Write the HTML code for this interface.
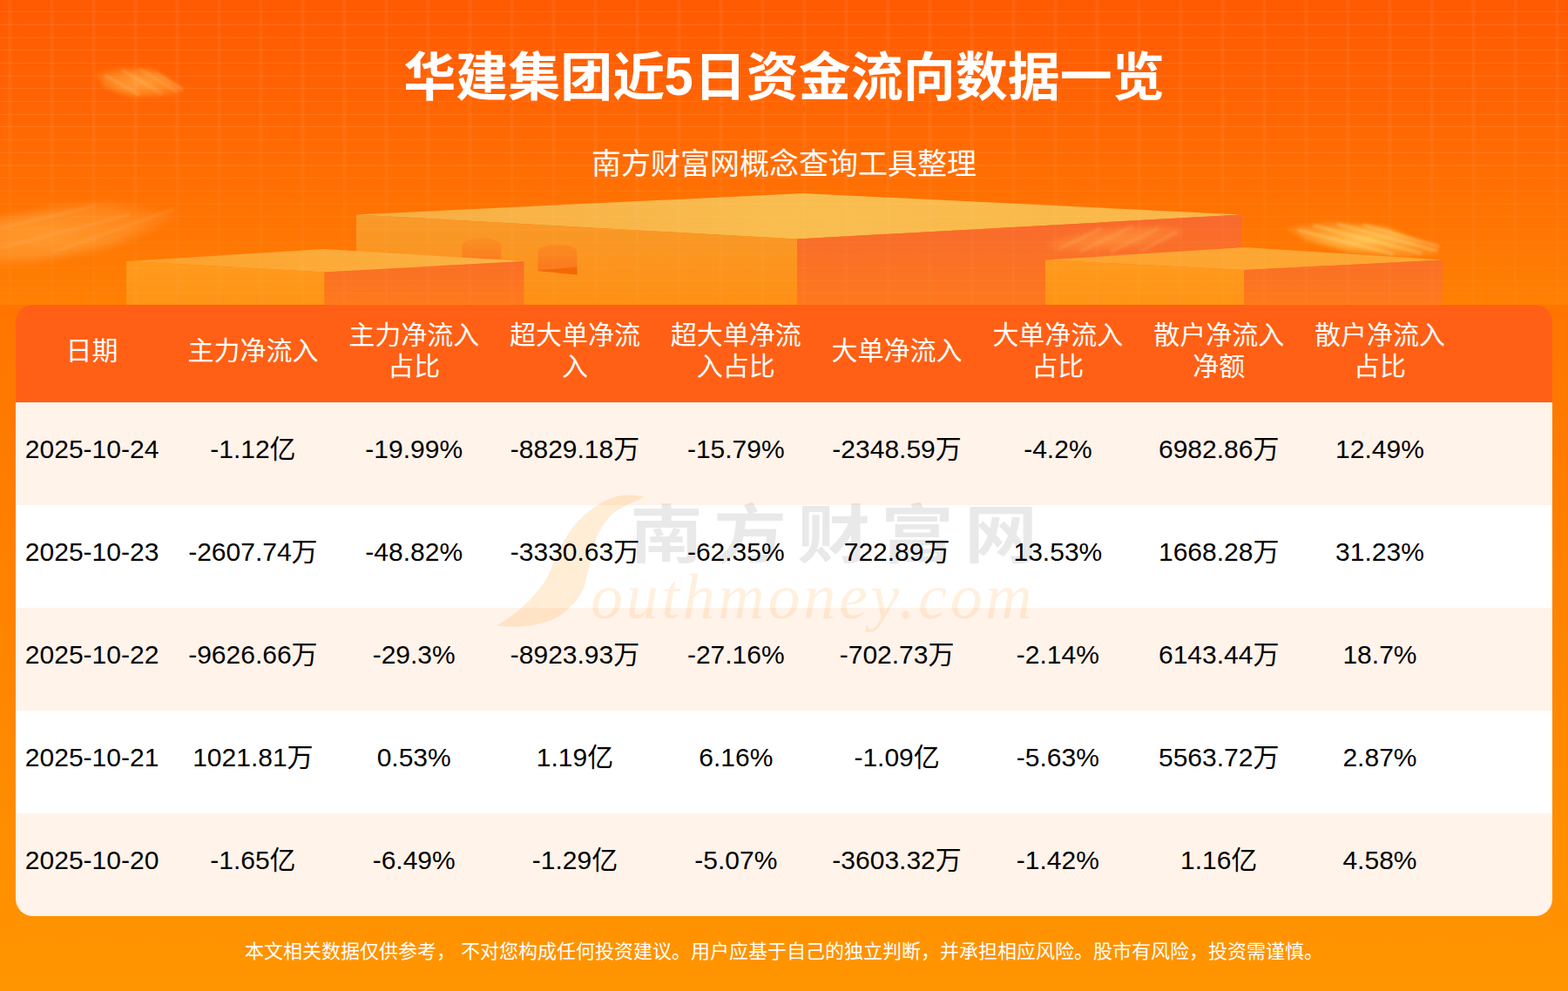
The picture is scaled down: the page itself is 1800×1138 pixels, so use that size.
<!DOCTYPE html>
<html lang="zh-CN">
<head>
<meta charset="utf-8">
<title>华建集团近5日资金流向数据一览</title>
<style>
html,body{margin:0;padding:0}
body{width:1800px;height:1138px;position:relative;overflow:hidden;font-family:"Liberation Sans","Noto Sans CJK SC",sans-serif;background:linear-gradient(180deg,#ff6600 0,#ff9500 1138px);color:#000}
.banner{position:absolute;left:0;top:0;width:1800px;height:350px;overflow:hidden;background:linear-gradient(180deg,#ff5a02 0,#ff6203 100px,#ff8003 350px)}
.banner>svg{position:absolute;left:0;top:0}
.grid{position:absolute;inset:0;-webkit-mask-image:linear-gradient(180deg,#000 0,#000 45%,rgba(0,0,0,.5) 72%,rgba(0,0,0,.45) 100%);mask-image:linear-gradient(180deg,#000 0,#000 45%,rgba(0,0,0,.5) 72%,rgba(0,0,0,.45) 100%);background:
repeating-linear-gradient(180deg,transparent 0,transparent 13.1px,rgba(255,255,255,.085) 13.2px,rgba(255,255,255,.085) 14.2px,transparent 14.3px,transparent 14.69px),
repeating-linear-gradient(90deg,transparent 0,transparent 9px,rgba(255,255,255,.05) 10px,rgba(255,255,255,.05) 13px,transparent 14px,transparent 48px)}
.title{position:absolute;left:0;top:58px;width:1800px;margin:0;text-align:center;font-size:60px;line-height:60px;height:60px;font-weight:bold;color:#fff;white-space:nowrap}
.title .n5{display:inline-block;vertical-align:baseline;font-size:63px;position:relative;top:-1.5px;width:33.4px;text-align:center;text-indent:-1.5px;transform:scaleX(.95)}
.sub{position:absolute;left:0;top:170.8px;width:1800px;margin:0;text-align:center;font-size:34px;line-height:34px;height:34px;color:#fff;white-space:nowrap}
.card{position:absolute;left:18px;top:350px;width:1764px;height:702px;border-radius:20px;overflow:hidden;background:linear-gradient(180deg,#ff6015 0,#ff6015 112px,#fff3ea 112px,#fff3ea 230px,#fff 230px,#fff 348px,#fff3ea 348px,#fff3ea 466px,#fff 466px,#fff 584px,#fff3ea 584px,#fff3ea 702px)}
table{position:absolute;left:-4.8px;top:0;width:1768.8px;border-collapse:collapse;table-layout:fixed;font-size:30px}
th,td{width:184.8px;padding:0;text-align:center;font-weight:normal;white-space:nowrap}
th:last-child,td:last-child{width:auto}
thead tr{height:112px;color:#fff}
th{line-height:36px;vertical-align:middle;padding-bottom:6px}
tbody tr{height:118px}
td{vertical-align:middle;padding-bottom:10px;line-height:34px}
.wm{position:absolute;left:0;top:0;width:1764px;height:702px;pointer-events:none}
.foot{position:absolute;left:0;top:1082px;width:1800px;margin:0;text-align:center;font-size:22px;line-height:22px;height:22px;color:#fff;white-space:pre}
.wms{position:absolute;left:0;top:0}
.wmcn{position:absolute;left:705px;top:225.5px;width:468px;height:73px;fill:#000;fill-opacity:.088}
.wmen{position:absolute;left:660px;top:290px;font-family:"Liberation Serif",serif;font-style:italic;font-size:74px;line-height:90px;letter-spacing:3.7px;color:rgba(255,140,0,.13);white-space:nowrap}

</style>
</head>
<body>
<div class="banner">
<svg width="1800" height="350" viewBox="0 0 1800 350" aria-hidden="true">
<defs>
<linearGradient id="bt" x1="0" y1="0" x2="1" y2="0"><stop offset="0" stop-color="#f8ac40"/><stop offset=".5" stop-color="#f9bd4f"/><stop offset="1" stop-color="#fbb648"/></linearGradient>
<linearGradient id="bl" x1="0" y1="0" x2="0" y2="1"><stop offset="0" stop-color="#f89a2a"/><stop offset="1" stop-color="#ff9014"/></linearGradient>
<linearGradient id="br" x1="0" y1="0" x2="0" y2="1"><stop offset="0" stop-color="#f8692e"/><stop offset="1" stop-color="#fe781c"/></linearGradient>
<linearGradient id="st" x1="0" y1="0" x2="1" y2="0"><stop offset="0" stop-color="#fda02a"/><stop offset="1" stop-color="#fbb446"/></linearGradient>
<linearGradient id="st2" x1="0" y1="0" x2="1" y2="0"><stop offset="0" stop-color="#fda330"/><stop offset="1" stop-color="#fda834"/></linearGradient>
<linearGradient id="sl" x1="0" y1="0" x2="0" y2="1"><stop offset="0" stop-color="#ff9a1e"/><stop offset="1" stop-color="#ff9414"/></linearGradient>
<linearGradient id="sr" x1="0" y1="0" x2="0" y2="1"><stop offset="0" stop-color="#fa6f26"/><stop offset="1" stop-color="#fe7a1c"/></linearGradient>
<linearGradient id="h1" x1="0" y1="0" x2="0" y2="1"><stop offset="0" stop-color="#fa8a1e" stop-opacity=".6"/><stop offset="1" stop-color="#fb7c20" stop-opacity="1"/></linearGradient>
<linearGradient id="h2" x1="0" y1="0" x2="0" y2="1"><stop offset="0" stop-color="#fb881e" stop-opacity=".8"/><stop offset="1" stop-color="#fb741e"/></linearGradient>
<radialGradient id="g1"><stop offset="0" stop-color="#ffae44" stop-opacity=".8"/><stop offset=".7" stop-color="#ff962a" stop-opacity=".65"/><stop offset="1" stop-color="#ff8c20" stop-opacity=".35"/></radialGradient>
<radialGradient id="g2"><stop offset="0" stop-color="#ffc850" stop-opacity=".95"/><stop offset=".6" stop-color="#ffae38" stop-opacity=".75"/><stop offset="1" stop-color="#ffa030" stop-opacity=".5"/></radialGradient>
<radialGradient id="g3"><stop offset="0" stop-color="#ffa040" stop-opacity=".6"/><stop offset=".6" stop-color="#ff9838" stop-opacity=".45"/><stop offset="1" stop-color="#ff9030" stop-opacity=".2"/></radialGradient>
<radialGradient id="g4" cx=".3" cy=".55" r=".75"><stop offset="0" stop-color="#ffa238" stop-opacity=".8"/><stop offset=".6" stop-color="#ff9830" stop-opacity=".6"/><stop offset="1" stop-color="#ff9028" stop-opacity=".3"/></radialGradient>
<filter id="bl3" x="-20%" y="-50%" width="140%" height="200%"><feGaussianBlur stdDeviation="2.5"/></filter>
<filter id="bl1" x="-20%" y="-50%" width="140%" height="200%"><feGaussianBlur stdDeviation="1.7"/></filter>
<filter id="bl6" x="-20%" y="-50%" width="140%" height="200%"><feGaussianBlur stdDeviation="5"/></filter>
</defs>
<!-- light streaks behind blocks -->
<g filter="url(#bl3)"><polygon points="108,84 132,78 172,78 212,103 200,110 150,112 120,100" fill="url(#g1)"/></g>
<g filter="url(#bl1)" stroke="#ffc27a" stroke-opacity=".3" stroke-width="3.2" fill="none"><path d="M120,86L160,109M140,80L186,108M160,79L203,105M178,83L210,103"/></g>
<g filter="url(#bl6)"><polygon points="-20,254 60,240 125,233 206,248 130,282 40,300 -20,302" fill="url(#g4)"/></g>
<g filter="url(#bl1)" stroke="#ffc080" stroke-opacity=".22" stroke-width="2.5" fill="none"><path d="M0,262L110,236M0,285L150,246M60,290L200,240"/></g>
<!-- big block -->
<polygon points="409,246.5 922,222 1425,246.5 915,274.5" fill="url(#bt)"/>
<polygon points="409,246.5 915,274.5 915,350 409,350" fill="url(#bl)"/>
<polygon points="915,274.5 1425,246.5 1425,350 915,350" fill="url(#br)"/>
<ellipse cx="1280" cy="274" rx="80" ry="13" transform="rotate(-6 1280 274)" fill="url(#g3)" filter="url(#bl3)"/>
<g filter="url(#bl1)" stroke="#ffb070" stroke-opacity=".26" stroke-width="4" fill="none"><path d="M1215,286L1265,262M1240,289L1300,260M1275,289L1330,262M1310,288L1352,266"/></g>
<!-- holes -->
<path d="M530.5,297.5V281a22.5,7.5 0 0 1 45,0V297.5z" fill="url(#h1)"/>
<path d="M617.5,311V289a22.5,8 0 0 1 45,0V315.5z" fill="url(#h2)"/>
<polygon points="617.5,310.5 662.5,306.5 662.5,315.5 617.5,311" fill="#f26a05"/>
<!-- left block -->
<polygon points="145,300 372.5,286 601.5,300 372.5,312.5" fill="url(#st)"/>
<polygon points="145,300 372.5,312.5 372.5,350 145,350" fill="url(#sl)"/>
<polygon points="372.5,312.5 601.5,300 601.5,350 372.5,350" fill="url(#sr)"/>
<!-- right block -->
<polygon points="1200,298.5 1429,284 1656,298.5 1428,310" fill="url(#st2)"/>
<polygon points="1200,298.5 1428,310 1428,350 1200,350" fill="url(#sl)"/>
<polygon points="1428,310 1656,298.5 1656,350 1428,350" fill="url(#sr)"/>
<g filter="url(#bl3)"><polygon points="1476,262 1525,255 1590,260 1654,289 1612,295 1548,289 1500,276" fill="url(#g2)"/></g>
<g filter="url(#bl1)" stroke="#ffe09a" stroke-opacity=".38" stroke-width="3.2" fill="none"><path d="M1490,264L1600,292M1508,259L1632,291M1535,257L1650,288M1565,258L1652,283"/></g>
</svg>

<div class="grid"></div>
</div>
<h1 class="title">华建集团近<span class="n5">5</span>日资金流向数据一览</h1>
<p class="sub">南方财富网概念查询工具整理</p>
<div class="card">
<div class="wm"><svg class="wms" width="1764" height="702" viewBox="18 350 1764 702" aria-hidden="true"><path d="M740,570.5C728,567.5 716,568 708,570C698,573 690,577 683,582C672,590 664,597 658,605C652,613 647,621 643,630C639,638 635,647 632,655C629,662 625,669 620,675C614,683 607,690 600,697C591,705 581,712 570,718.5C583,720 596,720 608,718.5C617,717 626,715 633,712C641,708 648,704 653,698C659,693 663,688 667,682C670,676 672,670 673,663C675,658 676,652 677,647C679,638 681,630 683,622C686,613 691,604 697,597C702,590 709,585 717,581.5C724,578 732,574 740,570.5Z" fill="#ff8c00" fill-opacity=".16"/></svg>
<svg class="wmcn" viewBox="0 -880 5572 1000" preserveAspectRatio="none" role="img" aria-label="南方财富网"><title>南方财富网</title><g font-family="'Liberation Sans','Noto Sans CJK SC',sans-serif" font-size="1000" font-weight="bold"><text x="0" y="0">南</text><text x="1143" y="0">方</text><text x="2286" y="0">财</text><text x="3429" y="0">富</text><text x="4572" y="0">网</text></g></svg>
<span class="wmen">outhmoney.com</span>
</div>
<table>
<thead><tr><th>日期</th><th>主力净流入</th><th>主力净流入<br>占比</th><th>超大单净流<br>入</th><th>超大单净流<br>入占比</th><th>大单净流入</th><th>大单净流入<br>占比</th><th>散户净流入<br>净额</th><th>散户净流入<br>占比</th><th></th></tr></thead>
<tbody>
<tr><td>2025-10-24</td><td>-1.12亿</td><td>-19.99%</td><td>-8829.18万</td><td>-15.79%</td><td>-2348.59万</td><td>-4.2%</td><td>6982.86万</td><td>12.49%</td><td></td></tr>
<tr><td>2025-10-23</td><td>-2607.74万</td><td>-48.82%</td><td>-3330.63万</td><td>-62.35%</td><td>722.89万</td><td>13.53%</td><td>1668.28万</td><td>31.23%</td><td></td></tr>
<tr><td>2025-10-22</td><td>-9626.66万</td><td>-29.3%</td><td>-8923.93万</td><td>-27.16%</td><td>-702.73万</td><td>-2.14%</td><td>6143.44万</td><td>18.7%</td><td></td></tr>
<tr><td>2025-10-21</td><td>1021.81万</td><td>0.53%</td><td>1.19亿</td><td>6.16%</td><td>-1.09亿</td><td>-5.63%</td><td>5563.72万</td><td>2.87%</td><td></td></tr>
<tr><td>2025-10-20</td><td>-1.65亿</td><td>-6.49%</td><td>-1.29亿</td><td>-5.07%</td><td>-3603.32万</td><td>-1.42%</td><td>1.16亿</td><td>4.58%</td><td></td></tr>
</tbody>
</table>
</div>
<p class="foot">本文相关数据仅供参考， 不对您构成任何投资建议。用户应基于自己的独立判断，并承担相应风险。股市有风险，投资需谨慎。</p>
</body>
</html>
